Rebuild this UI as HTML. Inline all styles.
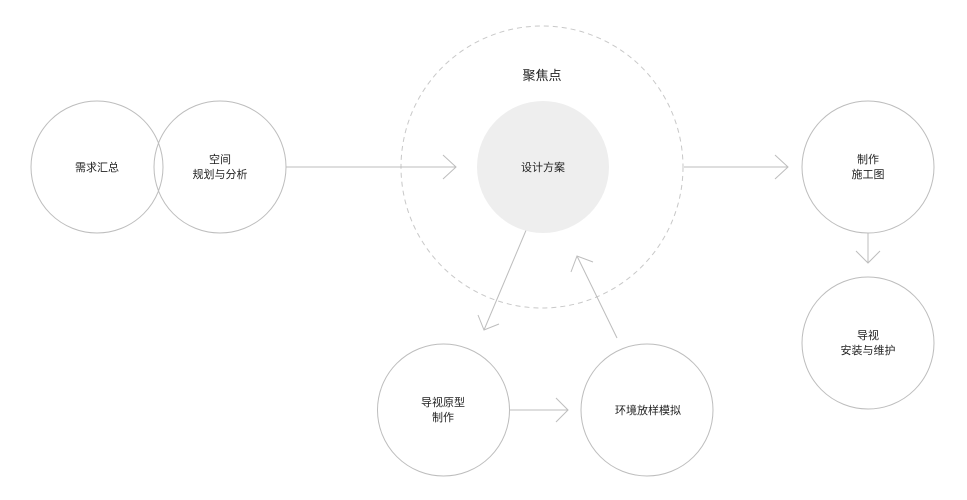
<!DOCTYPE html>
<html><head><meta charset="utf-8"><style>
html,body{margin:0;padding:0;background:#fff;}
svg{display:block;}
text{font-family:"Liberation Sans","Noto Sans CJK SC",sans-serif;fill:#222;font-size:11px;text-anchor:middle;}
</style></head><body>
<svg width="967" height="500" viewBox="0 0 967 500" xmlns="http://www.w3.org/2000/svg">
<g fill="none" stroke="#bdbdbd" stroke-width="1">
<circle cx="542" cy="167" r="141" stroke-dasharray="5,4" stroke="#c8c8c8"/>
<circle cx="97" cy="167" r="66"/>
<circle cx="220" cy="167" r="66"/>
<circle cx="868" cy="167" r="66"/>
<circle cx="868" cy="343" r="66"/>
<circle cx="443.5" cy="410" r="66"/>
<circle cx="647" cy="410" r="66"/>
<line x1="286" y1="167" x2="456" y2="167"/>
<polyline points="443,155 456,167 443,179"/>
<line x1="684" y1="167" x2="788" y2="167"/>
<polyline points="775,155 788,167 775,179"/>
<line x1="868" y1="233" x2="868" y2="263"/>
<polyline points="856,251 868,263 880,251"/>
<line x1="527" y1="228" x2="484" y2="330"/>
<polyline points="478,315 484,330 499,324"/>
<line x1="617" y1="338" x2="577" y2="256"/>
<polyline points="571,272 577,256 593,262"/>
<line x1="510" y1="410" x2="568" y2="410"/>
<polyline points="556,398 568,410 556,422"/>
</g>
<circle cx="543" cy="167" r="66" fill="#eeeeee"/>
<text x="542" y="80" style="font-size:13px">聚焦点</text>
<text x="543" y="171">设计方案</text>
<text x="97" y="171">需求汇总</text>
<text x="220" y="163">空间</text>
<text x="220" y="178">规划与分析</text>
<text x="868" y="163">制作</text>
<text x="868" y="178">施工图</text>
<text x="868" y="339">导视</text>
<text x="868" y="354">安装与维护</text>
<text x="443" y="406">导视原型</text>
<text x="443" y="421">制作</text>
<text x="648" y="414">环境放样模拟</text>
</svg>
</body></html>
